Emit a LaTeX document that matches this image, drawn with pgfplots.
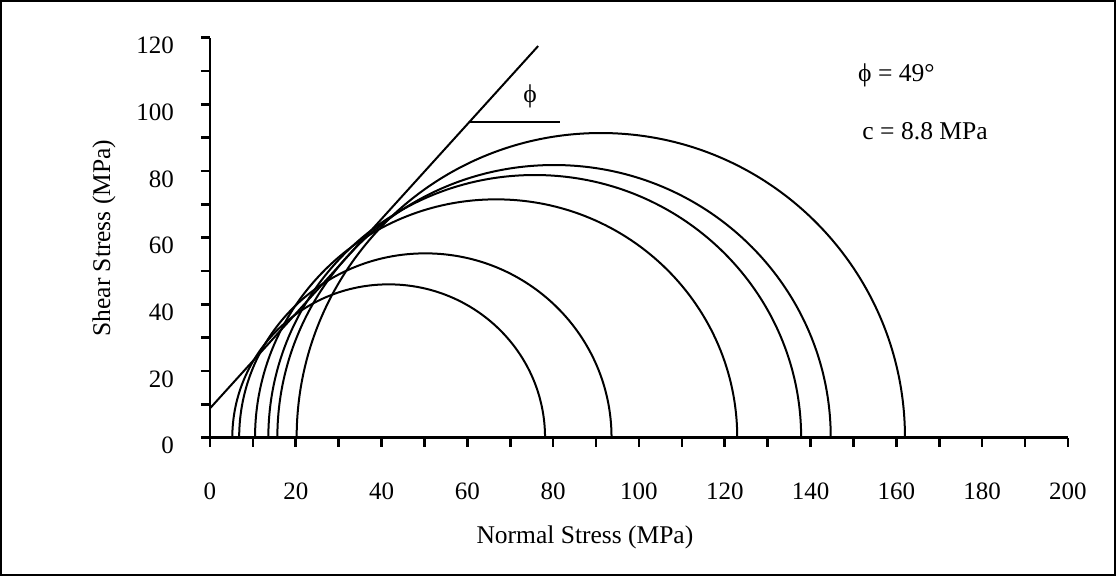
\documentclass[border=0pt]{standalone}
\usepackage{fontspec}
\setmainfont{Liberation Serif}
\usepackage{pgfplots}
\pgfplotsset{compat=1.18}
\begin{document}
\begin{tikzpicture}
\begin{axis}[
  name=ax,
  scale only axis=true,
  width=429pt, height=200pt,
  xmin=0, xmax=200, ymin=0, ymax=120,
  axis lines=left,
  axis line style={-, line width=1.4pt},
  xtick={0,20,...,200}, ytick={0,20,...,120},
  minor xtick={10,30,...,190}, minor ytick={10,30,...,110},
  tick align=outside,
  major tick length=4.5pt, minor tick length=4.5pt,
  every tick/.style={black, line width=1.3pt},
  /pgf/number format/assume math mode=true,
  tick label style={font=\fontsize{12.5}{14}\selectfont},
  xticklabel style={yshift=-14.5pt},
  yticklabel style={xshift=-10pt, yshift=-4pt},
  xlabel={Normal Stress (MPa)},
  ylabel={Shear Stress (MPa)},
  label style={font=\fontsize{12.75}{14}\selectfont},
  xlabel style={at={(axis description cs:0.437,-0.248)}, anchor=center},
  ylabel style={at={(axis description cs:-0.1235,0.499)}, anchor=center},
  clip=true,
]
% Mohr circles: centre, x-radius, y-radius
\draw[line width=1pt] (axis cs:41.65,0) ellipse [x radius=36.45, y radius=46.0];
\draw[line width=1pt] (axis cs:50.2,0) ellipse [x radius=43.4, y radius=55.3];
\draw[line width=1pt] (axis cs:66.7,0) ellipse [x radius=56.2, y radius=71.5];
\draw[line width=1pt] (axis cs:75.7,0) ellipse [x radius=62.1, y radius=78.8];
\draw[line width=1pt] (axis cs:80.2,0) ellipse [x radius=64.5, y radius=81.8];
\draw[line width=1pt] (axis cs:91.1,0) ellipse [x radius=70.9, y radius=91.4];
% failure envelope
\addplot[black, line width=1pt, mark=none] coordinates {(0,8.8) (76.5,117.5)};
% angle reference line
\addplot[black, line width=1pt, mark=none] coordinates {(60.5,94.8) (81.7,94.8)};
\node[font=\fontsize{12.8}{14}\selectfont] at (axis cs:74.6,102.3) {ϕ};
\node[font=\fontsize{12.8}{14}\selectfont, anchor=west, inner sep=0pt] at (axis cs:151.0,108.8) {ϕ = 49°};
\node[font=\fontsize{12.8}{14}\selectfont, anchor=west, inner sep=0pt] at (axis cs:152.0,92.0) {c = 8.8 MPa};
\end{axis}
\draw[line width=1pt] ([shift={(-104.5pt,-68.65pt)}]ax.south west) rectangle ([shift={(452.5pt,218.35pt)}]ax.south west);
\end{tikzpicture}
\end{document}
